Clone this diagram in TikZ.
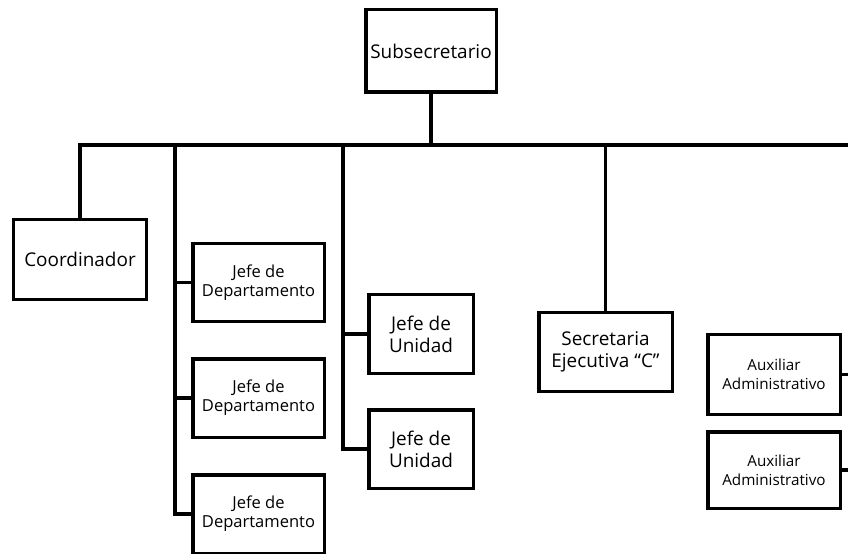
\documentclass[tikz,border=0pt]{standalone}
\usepackage{fontspec}
\setmainfont{Open Sans}
\begin{document}
\begin{tikzpicture}[x=1bp,y=-1bp,
  line width=3.5bp,
  box/.style={draw, fill=white, align=center, inner sep=0pt, line width=3.5bp},
  big/.style={font=\fontsize{19}{22}\selectfont},
  small/.style={font=\fontsize{16.6}{19}\selectfont},
  tiny/.style={font=\fontsize{15.3}{19}\selectfont}]
  \useasboundingbox (0,0) rectangle (848,554);
  \clip (0,0) rectangle (848,554);
  % boxes
  \node[box,big,minimum width=130.5bp,minimum height=82.5bp] (sub) at (431,51) {Subsecretario};
  \node[box,big,minimum width=132.5bp,minimum height=79.5bp] (coord) at (80,259.5) {Coordinador};
  \node[box,small,minimum width=131.5bp,minimum height=77.5bp] (jd1) at (258.5,282.5) {Jefe de\\Departamento};
  \node[box,small,minimum width=131.5bp,minimum height=78.5bp] (jd2) at (258.5,398) {Jefe de\\Departamento};
  \node[box,small,minimum width=131.5bp,minimum height=78.5bp] (jd3) at (258.5,514) {Jefe de\\Departamento};
  \node[box,big,minimum width=104.5bp,minimum height=78.5bp] (ju1) at (421,334) {Jefe de\\Unidad};
  \node[box,big,minimum width=104.5bp,minimum height=78.5bp] (ju2) at (421,449) {Jefe de\\Unidad};
  \node[box,big,minimum width=133.5bp,minimum height=78.5bp] (sec) at (605.5,352) {Secretaria\\Ejecutiva ``C''};
  \node[box,tiny,minimum width=132.5bp,minimum height=79.5bp] (aux1) at (774,374.5) {Auxiliar\\Administrativo};
  \node[box,tiny,minimum width=132.5bp,minimum height=76.5bp] (aux2) at (774,470) {Auxiliar\\Administrativo};
  % anchor points of the connector network
  \coordinate (busR) at (870,145);
  \coordinate (jdSpine) at (175,145);
  \coordinate (juSpine) at (343,145);
  \coordinate (auxSpine) at (870,145);
  % main horizontal bus
  \draw (coord.north) |- (busR);
  \draw (sub.south) -- (sub.south |- busR);
  % department heads
  \draw (jdSpine) -- (jdSpine |- jd3.west) -- (jd3.west);
  \draw (jdSpine |- jd1.west) -- (jd1.west);
  \draw (jdSpine |- jd2.west) -- (jd2.west);
  % unit heads
  \draw (juSpine) -- (juSpine |- ju2.west) -- (ju2.west);
  \draw (juSpine |- ju1.west) -- (ju1.west);
  % executive secretary
  \draw (sec.north) -- (sec.north |- busR);
  % administrative assistants
  \draw (aux1.east) -- (auxSpine |- aux1.east);
  \draw (aux2.east) -- (auxSpine |- aux2.east);
\end{tikzpicture}
\end{document}
